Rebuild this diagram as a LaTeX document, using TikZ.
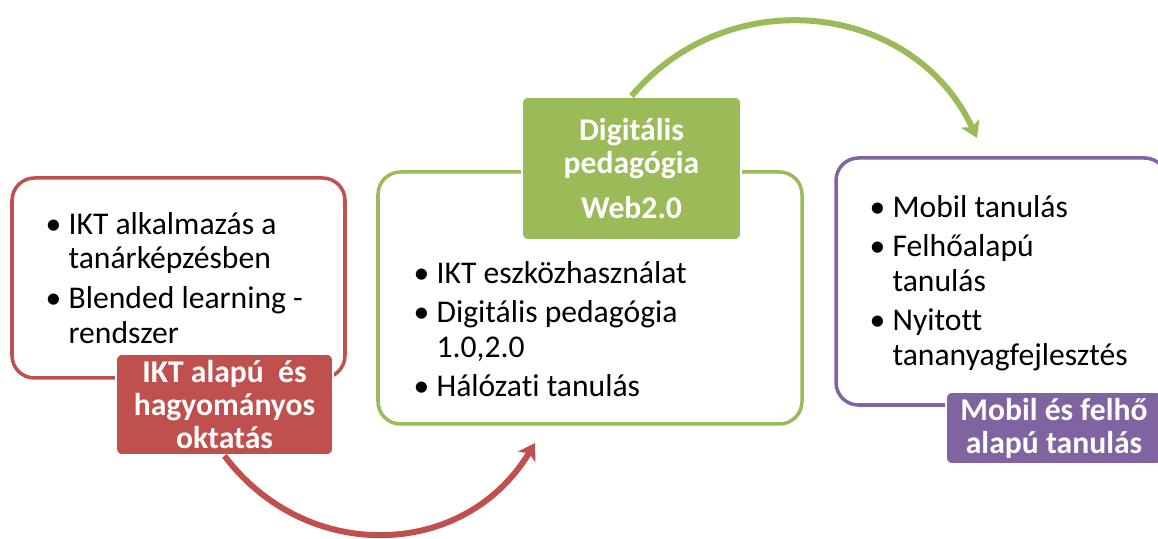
\documentclass[tikz,border=0pt]{standalone}
\usepackage{fontspec}
\setmainfont{Carlito}[Ligatures=NoCommon]
\usetikzlibrary{arrows.meta,positioning}
\definecolor{oktRed}{RGB}{192,80,77}
\definecolor{digiGreen}{RGB}{155,187,89}
\definecolor{mobilPurple}{RGB}{128,100,162}
\newcommand{\bul}{\makebox[0.46cm][l]{\textbullet}}
\newcommand{\ind}{\hspace*{0.46cm}}

\begin{document}
\begin{tikzpicture}[
  frame/.style={draw, line width=2pt, rounded corners=0.45cm, fill=white},
  tag/.style={draw=white, line width=1pt, rounded corners=0.12cm, text=white,
              font=\fontsize{18}{18.7}\selectfont\bfseries, align=center, inner sep=0pt},
  items/.style={font=\fontsize{18}{19.6}\selectfont, align=left, inner sep=0pt},
  curvearr/.style={-{Stealth[length=3.2mm,width=4mm,inset=0.8mm]}, line width=3.4pt}
]
  \useasboundingbox (0,0) rectangle (23.16,10.78);
  \clip (0,0) rectangle (23.16,10.78);

  % three stages
  \node[frame, draw=oktRed, minimum width=6.66cm, minimum height=4cm]        (ikt)   at (3.57,5.22) {};
  \node[frame, draw=digiGreen, minimum width=8.48cm, minimum height=5.04cm]  (digi)  at (11.80,4.82) {};
  \node[frame, draw=mobilPurple, minimum width=6.62cm, minimum height=4.94cm] (mobil) at (20.03,5.15) {};

  \node[items, below right=0.72cm and 0.7cm of ikt.north west] (iktlist)
    {\bul IKT alkalmazás a\\\ind tanárképzésben\\[3pt]\bul Blended learning -\\\ind rendszer};
  \node[items, below right=1.81cm and 0.74cm of digi.north west] (digilist)
    {\bul IKT eszközhasználat\\[3pt]\bul Digitális pedagógia\\\ind 1.0,2.0\\[3pt]\bul Hálózati tanulás};
  \node[items, below right=0.77cm and 0.7cm of mobil.north west] (mobillist)
    {\bul Mobil tanulás\\[3pt]\bul Felhőalapú\\\ind tanulás\\[3pt]\bul Nyitott\\\ind tananyagfejlesztés};

  % titles
  \node[tag, fill=oktRed, minimum width=4.34cm, minimum height=2.02cm] (iktlabel) at (4.49,2.69)
    {IKT alapú \ és\\hagyományos\\oktatás};
  \node[tag, fill=digiGreen, minimum width=4.38cm, minimum height=2.86cm] (digilabel) at (12.63,7.41)
    {Digitális\\pedagógia\\[7pt]Web2.0};
  \node[tag, fill=mobilPurple, minimum width=4.32cm, minimum height=1.44cm] (mobillabel) at (21.08,2.22)
    {Mobil és felhő\\alapú tanulás};

  % arrows between stages
  \coordinate (redtip)   at (10.70,1.92);
  \coordinate (greentip) at (19.54,8.02);
  \draw[curvearr, oktRed]    (iktlabel.south)  to[out=-53, in=-121, looseness=1.12] (redtip);
  \draw[curvearr, digiGreen] (digilabel.north) to[out=50, in=115, looseness=1.11]   (greentip);
\end{tikzpicture}
\end{document}
